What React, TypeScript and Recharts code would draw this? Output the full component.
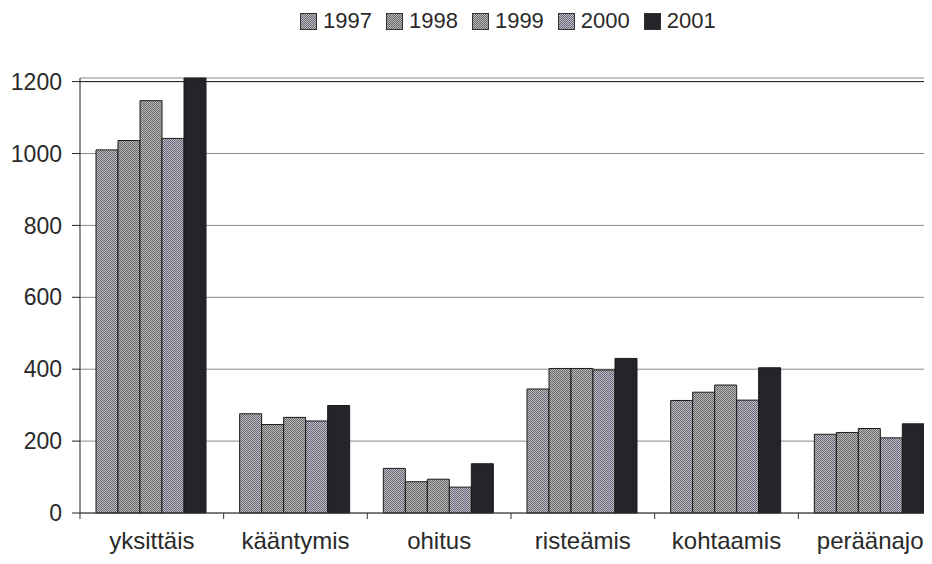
import { BarChart, Bar, XAxis, YAxis, CartesianGrid, Legend, ReferenceLine } from 'recharts';

const categories = ['yksittäis', 'kääntymis', 'ohitus', 'risteämis', 'kohtaamis', 'peräänajo'];
const years = ['1997', '1998', '1999', '2000', '2001'];

const values1997 = [1010, 276, 124, 345, 313, 219];
const values1998 = [1036, 246, 87, 402, 336, 224];
const values1999 = [1147, 266, 94, 402, 356, 235];
const values2000 = [1042, 256, 72, 398, 314, 209];
const values2001 = [1210, 299, 137, 430, 404, 248];

const yTicks = [0, 200, 400, 600, 800, 1000, 1200];

const seriesValues = [values1997, values1998, values1999, values2000, values2001];

const data = categories.map((name, i) => {
  const row: Record<string, string | number> = { name };
  years.forEach((y, s) => {
    row[y] = seriesValues[s][i];
  });
  return row;
});

// dithered greys like the scanned print, last year solid dark
const fills = ['url(#dot1997)', 'url(#dot1998)', 'url(#dot1999)', 'url(#dot2000)', '#24242b'];
const dots = [
  { id: 'dot1997', dark: '#6a6a72', light: '#bcbcc2' },
  { id: 'dot1998', dark: '#686868', light: '#b8b8b8' },
  { id: 'dot1999', dark: '#6a6a6a', light: '#bababa' },
  { id: 'dot2000', dark: '#6a6a78', light: '#bcbcc8' },
];

const FONT = '"Liberation Sans", Arial, sans-serif';
const TEXT = '#2a2a2a';
const X_TICK_SIZE = 6;
const X_TICK_MARGIN = 13;

function CategoryTick(props: any) {
  const { x, y, payload } = props;
  const axisY = y - X_TICK_SIZE - X_TICK_MARGIN;
  const edge = x - (payload?.offset ?? 0);
  return (
    <g>
      <line x1={edge} y1={axisY} x2={edge} y2={axisY + X_TICK_SIZE} stroke="#333" />
      <text x={x} y={y} dy="0.71em" textAnchor="middle" fill={TEXT} fontSize={24} fontFamily={FONT}>
        {payload.value}
      </text>
    </g>
  );
}

function YearLegend() {
  return (
    <div style={{ display: 'flex', alignItems: 'center', fontFamily: FONT, fontSize: 22, color: TEXT }}>
      {years.map((y, i) => (
        <div key={y} style={{ display: 'flex', alignItems: 'center', marginRight: 14 }}>
          <svg width={17} height={17} style={{ marginRight: 6 }}>
            <rect x={0.5} y={0.5} width={16} height={16} fill={fills[i]} stroke="#333" />
          </svg>
          <span>{y}</span>
        </div>
      ))}
    </div>
  );
}

export default function App() {
  return (
    <div style={{ margin: -8, width: 932, height: 564, overflow: 'hidden', position: 'relative', background: '#fff' }}>
      <BarChart
        width={942}
        height={564}
        data={data}
        margin={{ top: 78, right: 0, bottom: 0, left: 0 }}
        barCategoryGap={16}
        barGap={0}
      >
        <defs>
          {dots.map(d => (
            <pattern key={d.id} id={d.id} width={2} height={2} patternUnits="userSpaceOnUse">
              <rect width={2} height={2} fill={d.light} />
              <rect width={1} height={1} fill={d.dark} />
              <rect x={1} y={1} width={1} height={1} fill={d.dark} />
            </pattern>
          ))}
        </defs>
        <CartesianGrid vertical={false} stroke="#8a8a8a" />
        <XAxis
          dataKey="name"
          height={51}
          axisLine={{ stroke: '#333' }}
          tickLine={false}
          tickSize={X_TICK_SIZE}
          tickMargin={X_TICK_MARGIN}
          tick={<CategoryTick />}
          interval={0}
        />
        <YAxis
          width={80}
          domain={[0, 'dataMax']}
          ticks={yTicks}
          interval={0}
          axisLine={{ stroke: '#222' }}
          tickLine={{ stroke: '#222' }}
          tickSize={8}
          tickMargin={10}
          tick={{ fill: TEXT, fontSize: 23, fontFamily: FONT }}
        />
        <ReferenceLine y={1200} stroke="#222" />
        <Legend
          layout="horizontal"
          verticalAlign="middle"
          wrapperStyle={{ top: 8, left: 300, width: 'auto' }}
          content={<YearLegend />}
        />
        {years.map((y, i) => (
          <Bar key={y} dataKey={y} fill={fills[i]} stroke="#1a1a1a" strokeWidth={1} isAnimationActive={false} />
        ))}
      </BarChart>
    </div>
  );
}
